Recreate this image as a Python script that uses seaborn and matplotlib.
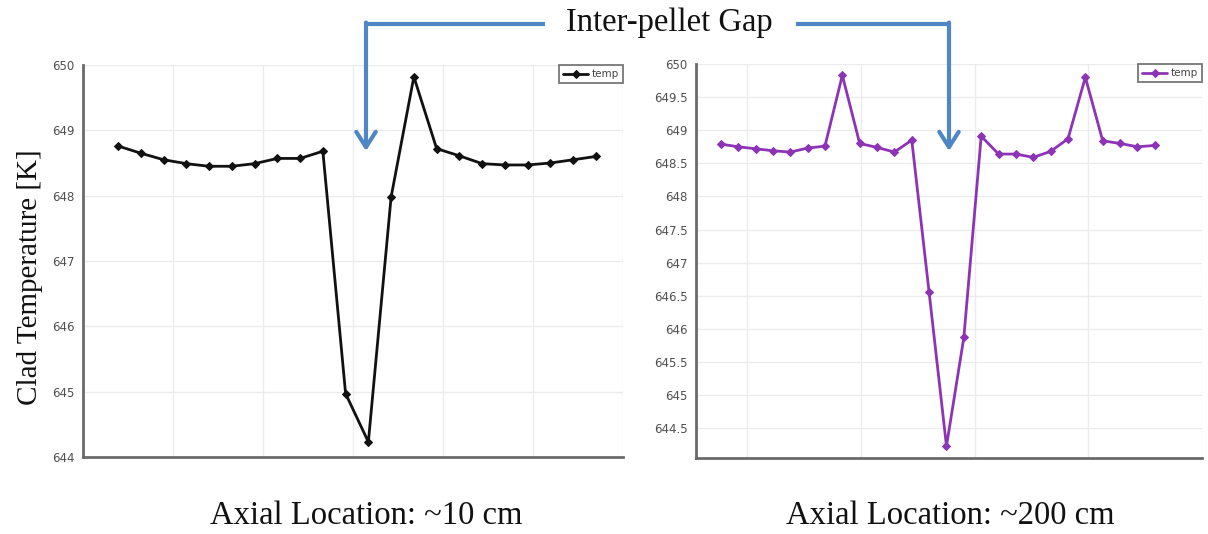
import numpy as np
import pandas as pd
import matplotlib
matplotlib.use("Agg")
import matplotlib.pyplot as plt
from matplotlib.lines import Line2D
from matplotlib.patches import FancyArrowPatch
import seaborn as sns

# ---------------- data ----------------
left_temp = [648.76, 648.65, 648.55, 648.49, 648.45, 648.45, 648.49, 648.57,
             648.57, 648.68, 644.97, 644.23, 647.98, 649.82, 648.72, 648.61,
             648.49, 648.47, 648.47, 648.50, 648.55, 648.60]
right_temp = [648.79, 648.75, 648.72, 648.69, 648.67, 648.73, 648.76, 649.83,
              648.80, 648.74, 648.67, 648.85, 646.55, 644.23, 645.87, 648.91,
              648.64, 648.64, 648.59, 648.68, 648.87, 649.80, 648.84, 648.80,
              648.75, 648.77]
left_yticks = [644, 645, 646, 647, 648, 649, 650]
left_yticklabels = ["644", "645", "646", "647", "648", "649", "650"]
right_yticks = [644.5, 645, 645.5, 646, 646.5, 647, 647.5, 648, 648.5, 649, 649.5, 650]
right_yticklabels = ["644.5", "645", "645.5", "646", "646.5", "647", "647.5",
                     "648", "648.5", "649", "649.5", "650"]
series_label = "temp"
ylabel = "Clad Temperature [K]"
title_text = "Inter-pellet Gap"
left_caption = "Axial Location: ~10 cm"
right_caption = "Axial Location: ~200 cm"

df_left = pd.DataFrame({"x": np.arange(len(left_temp)), "temp": left_temp})
df_right = pd.DataFrame({"x": np.arange(len(right_temp)), "temp": right_temp})

# ---------------- styling ----------------
sns.set_style("white")
plt.rcParams["font.family"] = ["DejaVu Sans"]

W, H = 1208, 534
fig = plt.figure(figsize=(W / 100, H / 100), dpi=100)


def fx(px):
    return px / W


def fy(py):
    return 1 - py / H


def style_axes(ax):
    for s in ["top", "right"]:
        ax.spines[s].set_visible(False)
    for s in ["left", "bottom"]:
        ax.spines[s].set_color("#6a6a6a")
        ax.spines[s].set_linewidth(2.0)
    ax.grid(True, color="#ececec", linewidth=1.0)
    ax.set_axisbelow(True)
    ax.tick_params(axis="y", direction="out", length=4, width=1.2,
                   color="#6a6a6a", labelsize=8.5, labelcolor="#505050", pad=2)
    ax.tick_params(axis="x", direction="out", length=3, width=1.0,
                   color="#6a6a6a", labelbottom=False)
    ax.set_xlabel("")
    ax.set_ylabel("")
    leg = ax.legend(loc="upper right", frameon=True, fancybox=False,
                    fontsize=7.5, handlelength=2.4, borderpad=0.4,
                    handletextpad=0.3, borderaxespad=0.0)
    leg.get_frame().set_edgecolor("#555555")
    leg.get_frame().set_linewidth(1.3)
    for t in leg.get_texts():
        t.set_color("#444444")


# Left panel
axL = fig.add_axes([fx(83), fy(457), fx(623) - fx(83), fy(65) - fy(457)])
sns.lineplot(data=df_left, x="x", y="temp", ax=axL, color="#111111",
             marker="D", markersize=4.5, markeredgecolor="#111111",
             linewidth=2.0, label=series_label)
axL.set_ylim(644, 650)
axL.set_yticks(left_yticks)
axL.set_yticklabels(left_yticklabels)
xl0, xl1 = -1.54, 22.19
axL.set_xlim(xl0, xl1)
axL.set_xticks(np.linspace(xl0, xl1, 7))
style_axes(axL)

# Right panel
purple = "#8d34b6"
axR = fig.add_axes([fx(696), fy(458), fx(1202) - fx(696), fy(64) - fy(458)])
sns.lineplot(data=df_right, x="x", y="temp", ax=axR, color=purple,
             marker="D", markersize=4.5, markeredgecolor=purple,
             linewidth=2.0, label=series_label)
axR.set_ylim(644.05, 650)
axR.set_yticks(right_yticks)
axR.set_yticklabels(right_yticklabels)
xr0, xr1 = -1.43, 27.72
axR.set_xlim(xr0, xr1)
axR.set_xticks([xr1 - k * 6.55 for k in range(4, -1, -1)])
style_axes(axR)

# ---------------- text ----------------
serif = ["Liberation Serif", "DejaVu Serif"]
fig.text(fx(30), fy(277), ylabel, rotation=90, ha="center", va="center",
         fontsize=21, family=serif, color="#111111")
fig.text(fx(669), fy(23), title_text, ha="center", va="center",
         fontsize=23.5, family=serif, color="#111111")
fig.text(fx(366), fy(516), left_caption, ha="center", va="center",
         fontsize=23.5, family=serif, color="#111111")
fig.text(fx(950), fy(516), right_caption, ha="center", va="center",
         fontsize=23.5, family=serif, color="#111111")

# ---------------- bracket arrows ----------------
blue = "#4f86c6"
ybr = 24
fig.add_artist(Line2D([fx(545), fx(366)], [fy(ybr), fy(ybr)], color=blue,
                      linewidth=3, solid_capstyle="butt"))
fig.add_artist(Line2D([fx(796), fx(949)], [fy(ybr), fy(ybr)], color=blue,
                      linewidth=3, solid_capstyle="butt"))
for xa in (366, 949):
    arr = FancyArrowPatch((fx(xa), fy(ybr - 1.5)), (fx(xa), fy(151)),
                          transform=fig.transFigure,
                          arrowstyle="->,head_length=0.55,head_width=0.35",
                          mutation_scale=20, color=blue, linewidth=3,
                          shrinkA=0, shrinkB=0)
    fig.add_artist(arr)

fig.savefig("out.png", dpi=100)
